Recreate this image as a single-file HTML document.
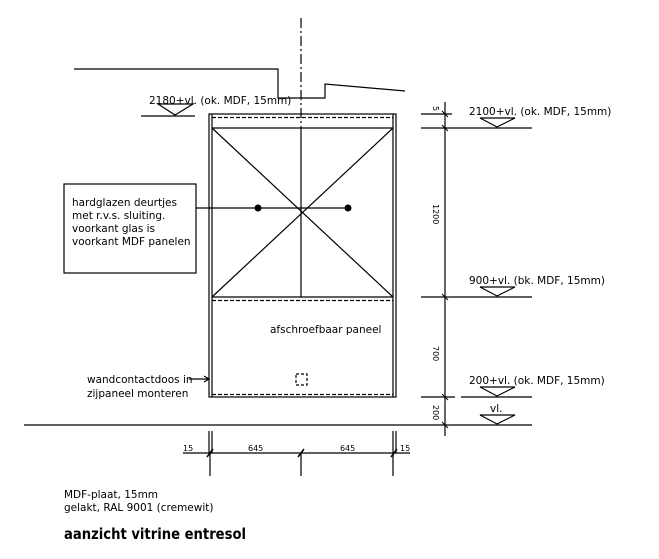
<!DOCTYPE html>
<html><head><meta charset="utf-8"><style>
html,body{margin:0;padding:0;background:#fff;}
svg{display:block;}
text{font-family:"DejaVu Sans","Liberation Sans",sans-serif;fill:#000;}
</style></head><body>
<svg width="659" height="559" viewBox="0 0 659 559" xmlns="http://www.w3.org/2000/svg">
<g stroke="#000" stroke-width="1.2" fill="none">
<polyline points="74,69 278,69 278,98 325,98 325,84 405,91"/>
<line x1="301" y1="18" x2="301" y2="128" stroke-dasharray="10,3,2,3"/>
<rect x="209" y="114" width="187" height="283"/>
<line x1="212" y1="114" x2="212" y2="397"/>
<line x1="393" y1="114" x2="393" y2="397"/>
<line x1="212" y1="117.5" x2="393" y2="117.5" stroke-dasharray="4,2"/>
<line x1="212" y1="128" x2="393" y2="128"/>
<line x1="212" y1="297" x2="393" y2="297"/>
<line x1="212" y1="300.5" x2="393" y2="300.5" stroke-dasharray="4,2"/>
<line x1="212" y1="394.5" x2="393" y2="394.5" stroke-dasharray="4,2"/>
<line x1="301" y1="128" x2="301" y2="297"/>
<line x1="212" y1="128" x2="393" y2="297"/>
<line x1="393" y1="128" x2="212" y2="297"/>
<rect x="296" y="374" width="11" height="11" stroke-dasharray="3,2"/>
<rect x="64" y="184" width="132" height="89"/>
<line x1="196" y1="208" x2="348" y2="208"/>
<line x1="189" y1="379" x2="209" y2="379"/>
<polyline points="204,376 209,379 204,382"/>
<line x1="24" y1="425" x2="532" y2="425"/>
<line x1="141" y1="116" x2="195" y2="116"/>
<polygon points="158,104 193,104 175,115"/>
<line x1="445" y1="102" x2="445" y2="436"/>
<line x1="421" y1="114" x2="452" y2="114"/>
<line x1="421" y1="128" x2="532" y2="128"/>
<line x1="421" y1="297" x2="532" y2="297"/>
<line x1="421" y1="397" x2="455" y2="397"/>
<line x1="461" y1="397" x2="532" y2="397"/>
<polygon points="480,118 515,118 497,127"/>
<polygon points="480,287 515,287 497,296"/>
<polygon points="480,387 515,387 497,396"/>
<polygon points="480,415 515,415 497,424"/>
<g stroke-width="1">
<line x1="442" y1="111" x2="448" y2="117"/>
<line x1="442" y1="125" x2="448" y2="131"/>
<line x1="442" y1="294" x2="448" y2="300"/>
<line x1="442" y1="394" x2="448" y2="400"/>
<line x1="442" y1="422" x2="448" y2="428"/>
</g>
<line x1="183" y1="453" x2="410" y2="453"/>
<line x1="209" y1="431" x2="209" y2="453"/>
<line x1="212" y1="431" x2="212" y2="453"/>
<line x1="210" y1="453" x2="210" y2="476"/>
<line x1="301" y1="453" x2="301" y2="476"/>
<line x1="393" y1="431" x2="393" y2="453"/>
<line x1="396" y1="431" x2="396" y2="453"/>
<line x1="393" y1="453" x2="393" y2="476"/>
<g stroke-width="1.5">
<line x1="207" y1="457" x2="213" y2="449"/>
<line x1="298" y1="457" x2="304" y2="449"/>
<line x1="391" y1="457" x2="397" y2="449"/>
</g>
</g>
<circle cx="258" cy="208" r="3.5" fill="#000"/>
<circle cx="348" cy="208" r="3.5" fill="#000"/>
<g font-size="10.5">
<text x="149" y="104">2180+vl. (ok. MDF, 15mm)</text>
<text x="469" y="115">2100+vl. (ok. MDF, 15mm)</text>
<text x="469" y="284">900+vl. (bk. MDF, 15mm)</text>
<text x="469" y="384">200+vl. (ok. MDF, 15mm)</text>
<text x="490" y="412">vl.</text>
<text x="72" y="206">hardglazen deurtjes</text>
<text x="72" y="219">met r.v.s. sluiting.</text>
<text x="72" y="232">voorkant glas is</text>
<text x="72" y="245">voorkant MDF panelen</text>
<text x="270" y="333">afschroefbaar paneel</text>
<text x="87" y="383">wandcontactdoos in</text>
<text x="87" y="397">zijpaneel monteren</text>
<text x="64" y="498">MDF-plaat, 15mm</text>
<text x="64" y="511">gelakt, RAL 9001 (cremewit)</text>
</g>
<g font-size="8">
<text x="183" y="451">15</text>
<text x="248" y="451">645</text>
<text x="340" y="451">645</text>
<text x="400" y="451">15</text>
<text transform="translate(433,106) rotate(90)">5</text>
<text transform="translate(433,204) rotate(90)">1200</text>
<text transform="translate(433,346) rotate(90)">700</text>
<text transform="translate(433,405) rotate(90)">200</text>
</g>
<text x="64" y="539" font-size="15" font-weight="bold" textLength="182" lengthAdjust="spacingAndGlyphs">aanzicht vitrine entresol</text>
</svg>
</body></html>
